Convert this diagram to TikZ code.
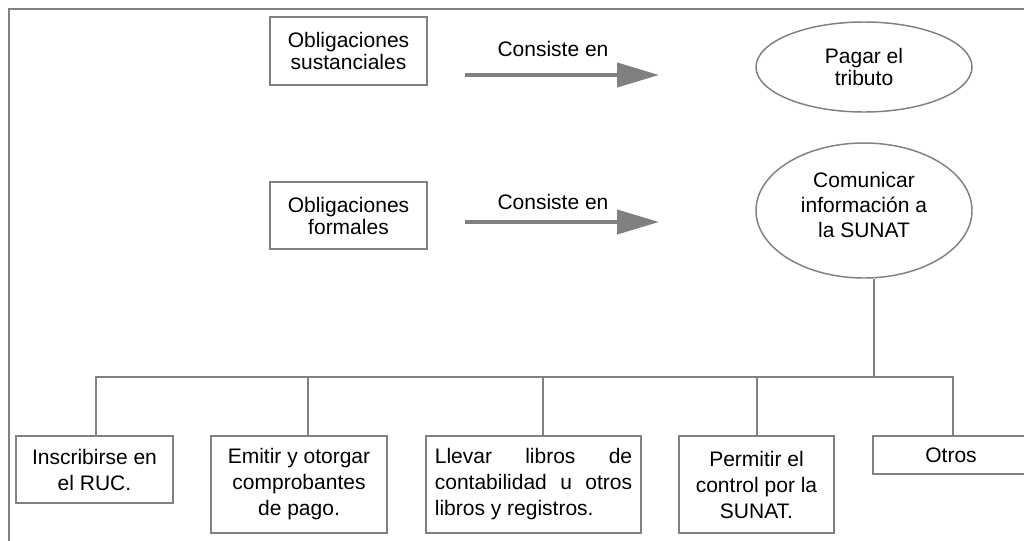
\documentclass[tikz,border=0pt]{standalone}
\usepackage{fontspec}
\setmainfont{Liberation Sans}
\usetikzlibrary{shapes.geometric,arrows.meta}
\definecolor{lg}{RGB}{128,128,128}
\begin{document}
\begin{tikzpicture}[x=0.75pt,y=-0.75pt,
  frame/.style={draw=lg,line width=1.1pt},
  conn/.style={draw=lg,line width=1.1pt},
  pxsize/.style 2 args={minimum width=#1*0.75pt,minimum height=#2*0.75pt},
  box/.style={draw=lg,line width=1.1pt,rectangle,inner sep=0pt,align=center,
    font=\fontsize{15.75pt}{16.5pt}\selectfont},
  lowbox/.style={box,font=\fontsize{15.75pt}{19.5pt}\selectfont},
  oval/.style={draw=lg,line width=1.1pt,ellipse,inner sep=0pt,align=center},
  txt/.style={inner sep=0pt,align=center},
  lbl/.style={inner sep=0pt,font=\fontsize{15.75pt}{16.5pt}\selectfont},
  bigarrow/.style={draw=lg,line width=3pt,-{Triangle[length=31.5pt,width=18pt]},fill=lg}
]
\useasboundingbox (0,0) rectangle (1024,540);
\clip (0,0) rectangle (1024,540);
% frame
\draw[frame] (9,548) -- (9,9) -- (1030,9);

% top row
\node[box,pxsize={157}{68}] (b1) at (348.5,51) {Obligaciones\\sustanciales};
\coordinate (a1s) at (465,75);
\coordinate (a1e) at (659,75);
\draw[bigarrow] (a1s) -- (a1e);
\node[lbl] (l1) at (553,49) {Consiste en};
\node[oval,pxsize={216}{90},font=\fontsize{15.75pt}{16.5pt}\selectfont] (e1) at (864,67) {Pagar el\\tributo};

% second row
\node[box,pxsize={157}{67}] (b2) at (348.5,215.5) {Obligaciones\\formales};
\coordinate (a2s) at (465,222);
\coordinate (a2e) at (659,222);
\draw[bigarrow] (a2s) -- (a2e);
\node[lbl] (l2) at (553,202) {Consiste en};
\node[oval,pxsize={216}{135}] (e2) at (864,210.5) {};
\node[txt,font=\fontsize{15.75pt}{18.75pt}\selectfont] (e2t) at (864,205) {Comunicar\\información a\\la SUNAT};

% bottom boxes
\node[lowbox,pxsize={157}{67}] (c1) at (94.5,469.5) {Inscribirse en\\el RUC.};
\node[lowbox,pxsize={176}{97}] (c2) at (299,484.5) {Emitir y otorgar\\comprobantes\\de pago.};
\node[lowbox,pxsize={215}{97},text width=148pt,align=justify] (c3) at (533.5,484.5)
  {\hyphenpenalty=10000 Llevar libros de\linebreak contabilidad u otros\linebreak libros y registros.};
\node[lowbox,pxsize={155}{97}] (c4) at (756.5,484.5) {Permitir el\\control por la\\SUNAT.};
\node[lowbox,pxsize={156}{38}] (c5) at (951,455) {Otros};

% tree connectors
\coordinate (j) at (874,377);
\draw[conn] (e2.south -| j) -- (j);
\coordinate (d1) at ([xshift=1.1pt]c1.north);
\coordinate (d2) at ([xshift=6.75pt]c2.north);
\coordinate (d3) at ([xshift=7.1pt]c3.north);
\coordinate (d4) at ([xshift=0.4pt]c4.north);
\coordinate (d5) at ([xshift=1.5pt]c5.north);
\draw[conn] (d1) |- (j) -| (d5);
\draw[conn] (d2) -- (d2 |- j);
\draw[conn] (d3) -- (d3 |- j);
\draw[conn] (d4) -- (d4 |- j);
\end{tikzpicture}
\end{document}
